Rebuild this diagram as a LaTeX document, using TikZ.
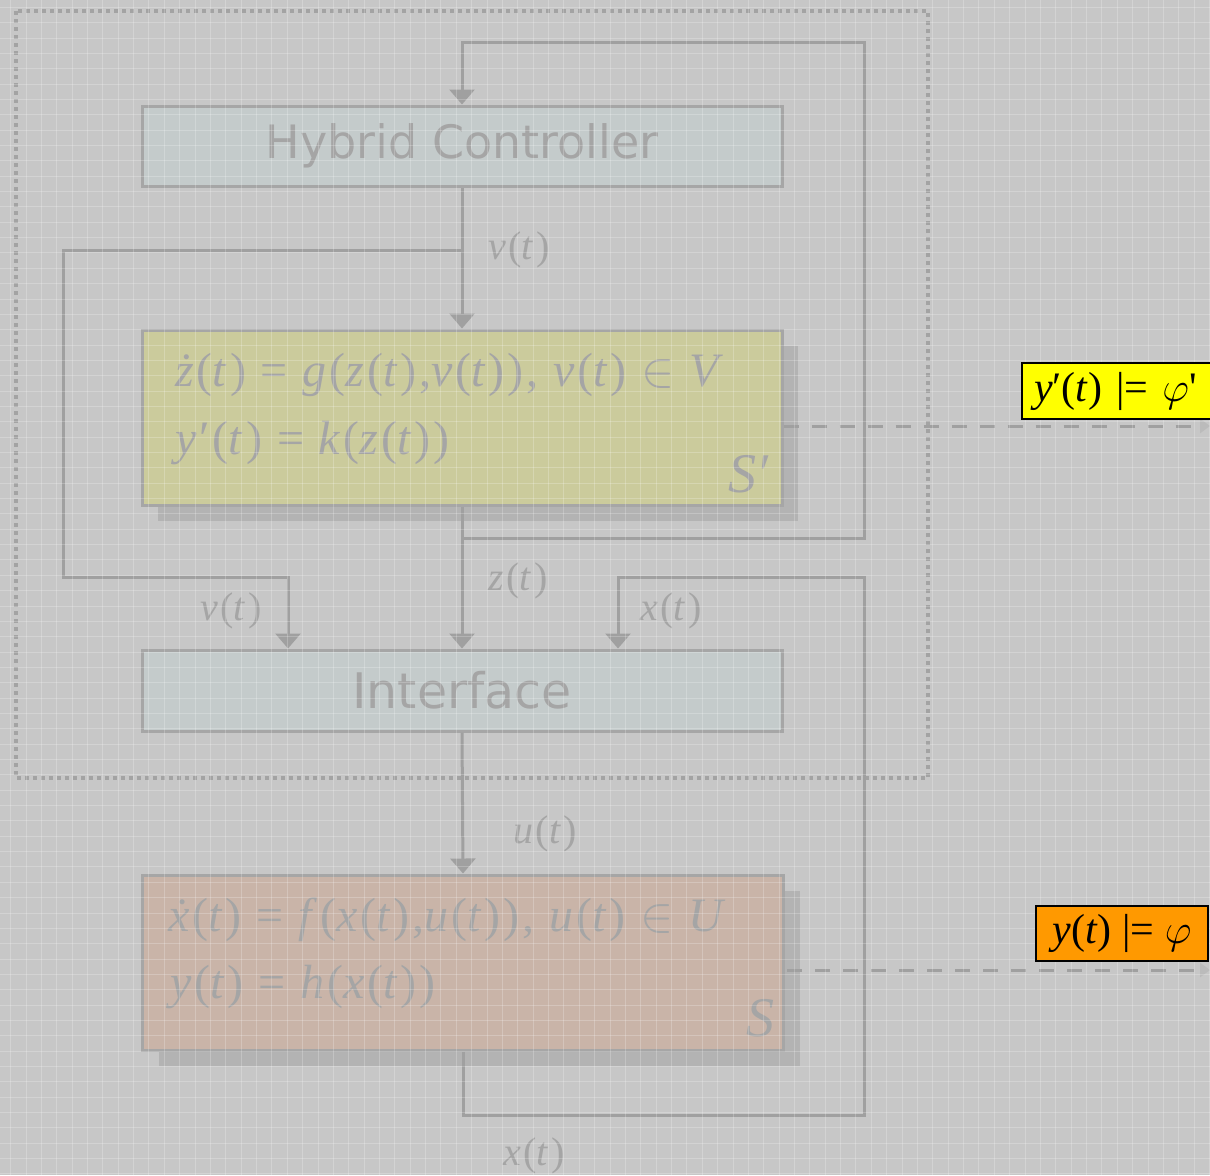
\documentclass[tikz,border=0pt]{standalone}
\usepackage{fontspec}
\setmainfont{Liberation Serif}
\newfontfamily\titlefont{DejaVu Sans}
\newfontfamily\eqfont{Liberation Serif}[LetterSpace=6]
\usetikzlibrary{arrows.meta,shadows}

\definecolor{bgc}{HTML}{C7C7C7}
\definecolor{linec}{HTML}{A0A0A0}
\definecolor{edgec}{HTML}{A6A6A6}
\definecolor{txtc}{HTML}{A5A5A5}
\definecolor{framec}{HTML}{A3A3A3}
\definecolor{ctrlfill}{HTML}{C4CBCB}
\definecolor{abstfill}{HTML}{CBCB9C}
\definecolor{plantfill}{HTML}{C9B4A8}
\definecolor{shadowc}{HTML}{B3B3B3}
\definecolor{tipc}{HTML}{BBBBBB}
\definecolor{propyellow}{HTML}{FFFF00}
\definecolor{proporange}{HTML}{FF9900}

\newcommand\iv[1]{\textit{#1}}

\tikzset{
  block/.style={draw=edgec, line width=1.5pt, minimum width=320pt, inner sep=0pt},
  shadowed/.style={drop shadow={shadow xshift=8pt, shadow yshift=-8pt, fill=shadowc, opacity=1}},
  wire/.style={draw=linec, line width=1.5pt},
  sig/.style={wire, -{Triangle[width=12.5pt,length=7.5pt]}},
  outline/.style={draw=linec, line width=1.5pt, dash pattern=on 7.5pt off 6.5pt,
                  -{Triangle[width=7pt,length=5pt,color=tipc]}},
  frame/.style={draw=framec, line width=1.9pt, dash pattern=on 1.9pt off 2.1pt},
  lab/.style={text=txtc, font=\eqfont\fontsize{20}{24}\selectfont, inner sep=0pt, anchor=base west},
  eq/.style={text=txtc, font=\eqfont\fontsize{24}{28}\selectfont, inner sep=0pt, anchor=base west},
  title/.style={text=txtc, font=\titlefont\fontsize{23}{26}\selectfont},
  prop/.style={draw=black, line width=1pt, font=\fontsize{21}{24}\selectfont, inner sep=0pt},
  gridline/.style={draw=white, opacity=0.22, line width=0.5pt}
}

\begin{document}
\begin{tikzpicture}[x=0.5pt, y=-0.5pt]
\useasboundingbox (0,0) rectangle (1210,1175);
\clip (0,0) rectangle (1210,1175);
\fill[bgc] (0,0) rectangle (1210,1175);

% dotted boundary of the controller side
\draw[frame] (16,11) rectangle (928,778);

% blocks
\node[block, fill=ctrlfill, minimum height=40pt, title] (hc) at (462,146) {Hybrid Controller};
\node[block, fill=abstfill, minimum height=87.5pt, shadowed] (sp) at (462,417.5) {};
\node[block, fill=ctrlfill, minimum height=40.5pt, title, font=\titlefont\fontsize{24.5}{27}\selectfont] (itf) at (462,690.5) {Interface};
\node[block, fill=plantfill, minimum height=87.5pt, minimum width=320.5pt, shadowed] (sys) at (463,962.5) {};

% equations of the abstraction S'
\node[eq] (eqa) at (175,386) {\iv{ż}(\iv{t}) = \iv{g}(\iv{z}(\iv{t}),\iv{v}(\iv{t})), \iv{v}(\iv{t}) $\in$ \iv{V}};
\node[eq] (eqb) at (175,454) {\iv{y}′(\iv{t}) = \iv{k}(\iv{z}(\iv{t}))};
\node[eq, font=\eqfont\fontsize{28}{30}\selectfont] (sname) at (728,492) {\iv{S}′};

% equations of the plant S
\node[eq] (eqc) at (168,931) {\iv{ẋ}(\iv{t}) = \iv{f}(\iv{x}(\iv{t}),\iv{u}(\iv{t})), \iv{u}(\iv{t}) $\in$ \iv{U}};
\node[eq] (eqd) at (170,998) {\iv{y}(\iv{t}) = \iv{h}(\iv{x}(\iv{t}))};
\node[eq, font=\eqfont\fontsize{28}{30}\selectfont] (pname) at (746,1036) {\iv{S}};

% signal connections
\coordinate (tr) at (864,42);
\coordinate (jz) at (462,538);
\coordinate (jv) at (462,250);
\coordinate (lv) at (63,577);
\coordinate (br) at (864,1115);
\coordinate (xk) at (864,577);

\draw[sig] (hc.south) -- (sp.north);
\draw[sig] (sp.south) -- (itf.north);
\draw[sig] (jz) -| (tr) -| (hc.north);
\draw[sig] (jv) -| (lv) -| ([xshift=-87pt]itf.north);
\draw[sig] (sys.south) |- (br) -- (xk) -| ([xshift=78pt]itf.north);
\draw[sig] (itf.south) -- (sys.north);

% signal labels
\node[lab] (lv1) at (488,259) {\iv{v}(\iv{t})};
\node[lab] (lv2) at (200,620) {\iv{v}(\iv{t})};
\node[lab] (lz) at (488,590) {\iv{z}(\iv{t})};
\node[lab] (lx1) at (640,620) {\iv{x}(\iv{t})};
\node[lab] (lu) at (513,843) {\iv{u}(\iv{t})};
\node[lab] (lx2) at (503,1165) {\iv{x}(\iv{t})};

% outputs
\coordinate (o1) at (1210,426);
\coordinate (o2) at (1210,970);
\draw[outline] (sp.east |- o1) -- (o1);
\draw[outline] ([xshift=1pt]sys.east |- o2) -- (o2);

% graph paper
\foreach \i in {0,...,78} \draw[gridline] ({10.63+15.37*\i},0) -- ++(0,1175);
\foreach \j in {0,...,76} \draw[gridline] (0,{7.35+15.35*\j}) -- ++(1210,0);

% specifications
\node[prop, fill=propyellow, anchor=west, minimum height=28pt, text width=100pt, inner xsep=6pt, align=left] (spec1) at (1021,391)
  {\iv{y}′(\iv{t}) |= $\varphi$\textquotesingle};
\node[prop, fill=proporange, minimum height=27.5pt, minimum width=86pt] (spec2) at (1122,933.5)
  {\iv{y}(\iv{t}) |= $\varphi$};
\end{tikzpicture}
\end{document}
